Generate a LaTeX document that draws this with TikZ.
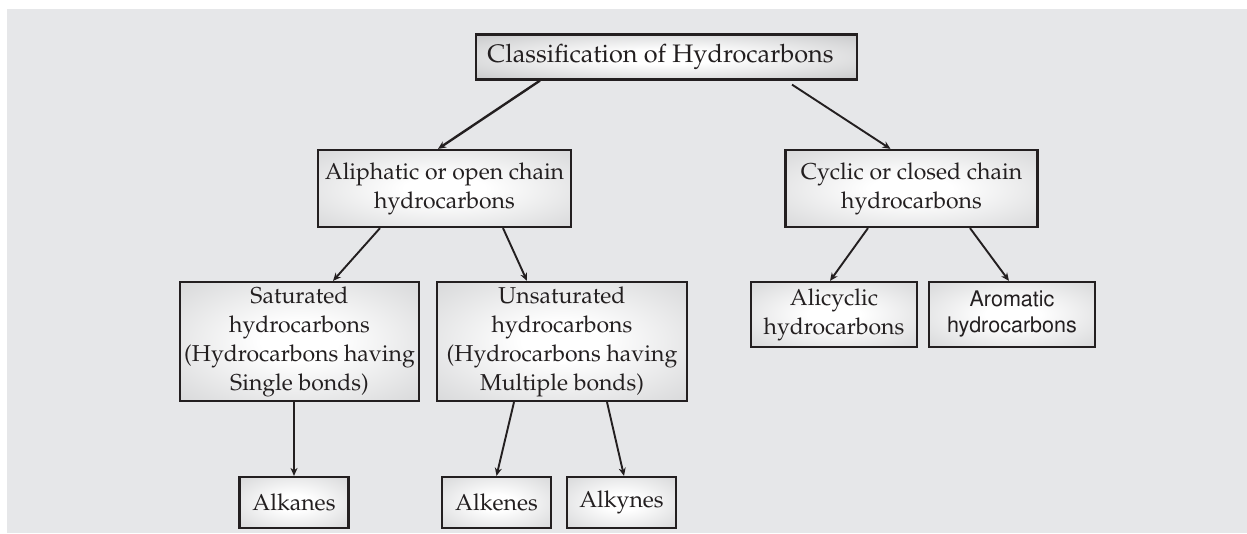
\documentclass[tikz,border=0pt]{standalone}
\usepackage[T1]{fontenc}
\renewcommand{\rmdefault}{ppl}
\usetikzlibrary{arrows.meta}
\definecolor{panel}{HTML}{E6E7E9}
\definecolor{ink}{HTML}{231F20}
\definecolor{rimlight}{HTML}{C6C7C9}
\definecolor{rimdark}{HTML}{B6B7B9}
% soft radial fill: white centre fading to grey at the edges
\pgfdeclareradialshading{softglow}{\pgfpoint{0bp}{0bp}}{%
  color(0bp)=(white); color(8bp)=(white); color(30bp)=(white!45!rimlight);
  color(50bp)=(rimlight); color(72bp)=(rimdark)}
\pgfdeclareradialshading{titleglow}{\pgfpoint{0bp}{0bp}}{%
  color(0bp)=(white); color(8bp)=(white); color(30bp)=(white!40!rimdark);
  color(50bp)=(rimdark!92!black); color(72bp)=(rimdark!82!black)}
\tikzset{
  box/.style={draw=ink, line width=2.2pt, shading=softglow,
    inner sep=0pt, align=center, text=ink,
    font=\fontsize{23}{29}\selectfont},
  arr/.style={draw=ink, line width=1.9pt, -{Stealth[length=8pt,width=7pt,inset=2.5pt]}},
}
\begin{document}
\begin{tikzpicture}[x=1pt,y=-1pt]
  % page and panel
  \fill[white] (0,0) rectangle (1247,533);
  \fill[panel] (7,9) rectangle (1247,533);
  \useasboundingbox (0,0) rectangle (1247,533);

  % boxes
  \node[box, shading=titleglow, minimum width=381pt, minimum height=45pt,
        font=\fontsize{25.3}{30}\selectfont] (title) at (666.5,57)
        {Classification of Hydrocarbons\hspace*{12pt}};
  \node[box, minimum width=253pt, minimum height=77pt] (aliph) at (444.5,188.5)
        {Aliphatic or open chain\\hydrocarbons};
  \node[box, minimum width=252pt, minimum height=77pt] (cyclic) at (911.5,188.5)
        {Cyclic or closed chain\\hydrocarbons};
  \node[box, minimum width=239pt, minimum height=119pt] (sat) at (299.5,341.5)
        {Saturated\\hydrocarbons\\(Hydrocarbons having\\Single bonds)};
  \node[box, minimum width=250pt, minimum height=119pt] (unsat) at (562,341.5)
        {Unsaturated\\hydrocarbons\\(Hydrocarbons having\\Multiple bonds)};
  \node[box, minimum width=109pt, minimum height=51pt] (alkanes) at (294,502.5) {Alkanes};
  \node[box, minimum width=109pt, minimum height=51pt] (alkenes) at (496.5,502.5) {Alkenes};
  \node[box, minimum width=109pt, minimum height=51pt] (alkynes) at (621.5,502.5) {Alkynes};
  \node[box, minimum width=166pt, minimum height=65pt] (alicyc) at (834,314.5)
        {Alicyclic\\hydrocarbons};
  \node[box, minimum width=166pt, minimum height=65pt,
        font=\fontfamily{phv}\fontsize{21.5}{26}\selectfont] (arom) at (1012,314.5)
        {Aromatic\\hydrocarbons};

  % connectors
  \draw[arr, line width=2.4pt] ([xshift=-126.5pt]title.south) -- ([xshift=-6.5pt]aliph.north);
  \draw[arr] ([xshift=125.5pt,yshift=-4pt]title.south) -- ([xshift=-21pt]cyclic.north);
  \draw[arr] ([xshift=-64.5pt]aliph.south) -- ([xshift=33.5pt]sat.north);
  \draw[arr] ([xshift=58.5pt]aliph.south) -- ([xshift=-35pt]unsat.north);
  \draw[arr] (alkanes.north |- sat.south) -- (alkanes.north);
  \draw[arr] ([xshift=-48pt]unsat.south) -- (alkenes.north);
  \draw[arr] ([xshift=45pt]unsat.south) -- ([xshift=2.5pt]alkynes.north);
  \draw[arr] ([xshift=-43.5pt]cyclic.south) -- ([xshift=-4pt]alicyc.north);
  \draw[arr] ([xshift=58.5pt]cyclic.south) -- ([xshift=-3pt]arom.north);
\end{tikzpicture}
\end{document}
